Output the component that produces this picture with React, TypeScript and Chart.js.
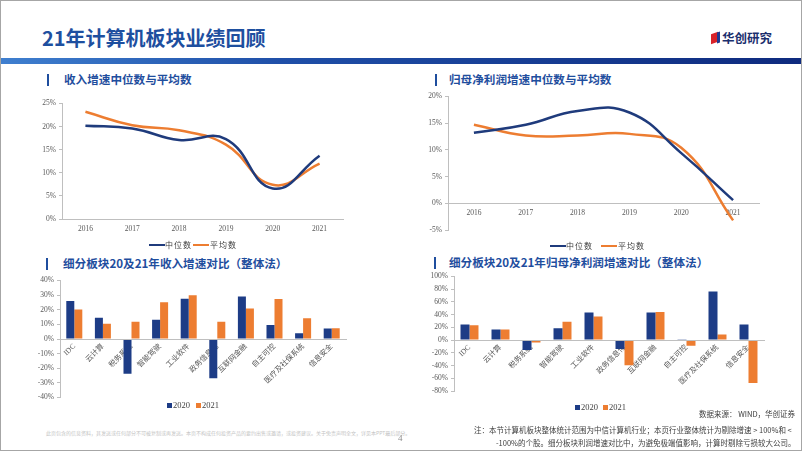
import React, { useEffect, useRef } from 'react';
import { Chart, registerables } from 'chart.js';

Chart.register(...registerables);

// ---------- data ----------
const years = ['2016', '2017', '2018', '2019', '2020', '2021'];
const revenueMedian = [20.2, 19.6, 17.1, 17.3, 6.6, 13.7];
const revenueMean = [23.2, 20.3, 19.2, 16.1, 7.4, 12.0];
const profitMedian = [13.2, 14.7, 17.3, 17.0, 9.4, 0.6];
const profitMean = [14.7, 12.7, 12.7, 13.0, 10.4, -3.2];

const sectors = ['IDC', '云计算', '税务系统', '智能驾驶', '工业软件', '政务信息化', '互联网金融', '自主可控', '医疗及社保系统', '信息安全'];
const revenue2020 = [26.0, 14.6, -23.8, 13.1, 27.6, -26.9, 29.1, 9.6, 3.9, 7.2];
const revenue2021 = [20.1, 10.5, 11.8, 25.2, 30.0, 11.8, 20.8, 27.4, 14.2, 7.4];
const profit2020 = [24.7, 16.5, -15.5, 18.6, 43.3, -13.9, 43.3, 0.5, 76.3, 24.7];
const profit2021 = [23.2, 16.5, -3.6, 28.9, 37.1, -39.7, 44.3, -8.8, 8.8, -67.5];

// axis ranges: [min, max, step]
const revenueLineAxis = [0, 25, 5];
const profitLineAxis = [-5, 20, 5];
const revenueBarAxis = [-40, 40, 10];
const profitBarAxis = [-80, 100, 20];

const seriesNames = ['中位数', '平均数'];
const barYears = ['2020', '2021'];

// ---------- styles ----------
const NAVY = '#1f3b7c';
const BAR_NAVY = '#1d3c86';
const ORANGE = '#ED7D31';
const AXIS = '#bfbfbf';
const TICK = '#595959';
const BLUE_TXT = '#1f4e9e';
const SERIF = "'Liberation Serif', 'Noto Sans CJK SC', serif";
const SANS = "'Noto Sans CJK SC', 'Noto Sans', sans-serif";
const tickFont = { family: SERIF, size: 7.5 };

function yAxis(range: number[], width: number) {
  return {
    min: range[0],
    max: range[1],
    ticks: {
      stepSize: range[2],
      callback: (v: any) => `${v}%`,
      font: tickFont,
      color: TICK,
      padding: 3,
    },
    grid: { display: true, drawOnChartArea: false, drawTicks: true, tickLength: 3, color: AXIS },
    border: { display: true, color: AXIS },
    afterFit: (s: any) => {
      s.width = width;
    },
  };
}

function lineConfig(a: number[], b: number[], range: number[], yWidth: number, padding: any, atZero: boolean) {
  const x: any = {
    offset: true,
    grid: { display: false, drawTicks: false },
    border: { display: true, color: AXIS },
    ticks: { font: tickFont, color: TICK, padding: atZero ? 5 : 6, maxRotation: 0, minRotation: 0 },
  };
  if (atZero) {
    x.position = { y: 0 };
  } else {
    x.afterFit = (s: any) => {
      s.height = 22;
    };
  }
  return {
    type: 'line',
    data: {
      labels: years,
      datasets: [
        { label: seriesNames[0], data: a, borderColor: NAVY, borderWidth: 2.5, pointRadius: 0, tension: 0.45, fill: false },
        { label: seriesNames[1], data: b, borderColor: ORANGE, borderWidth: 2.5, pointRadius: 0, tension: 0.45, fill: false },
      ],
    },
    options: {
      responsive: false,
      animation: false,
      layout: { padding },
      plugins: { legend: { display: false }, tooltip: { enabled: false } },
      scales: { x, y: yAxis(range, yWidth) },
    },
  };
}

function barConfig(a: number[], b: number[], range: number[], yWidth: number, padding: any, catPct: number) {
  return {
    type: 'bar',
    data: {
      labels: sectors,
      datasets: [
        { label: barYears[0], data: a, backgroundColor: BAR_NAVY, barPercentage: 1, categoryPercentage: catPct },
        { label: barYears[1], data: b, backgroundColor: ORANGE, barPercentage: 1, categoryPercentage: catPct },
      ],
    },
    options: {
      responsive: false,
      animation: false,
      layout: { padding },
      plugins: { legend: { display: false }, tooltip: { enabled: false } },
      scales: {
        x: {
          position: { y: 0 },
          offset: true,
          grid: { display: false, drawTicks: false },
          border: { display: true, color: AXIS, z: 1 },
          ticks: { font: tickFont, color: TICK, padding: 3, minRotation: 45, maxRotation: 45, autoSkip: false },
        },
        y: yAxis(range, yWidth),
      },
    },
  };
}

function ChartBox({ left, top, width, height, config }: any) {
  const ref = useRef<HTMLCanvasElement>(null);
  useEffect(() => {
    const chart = new Chart(ref.current as HTMLCanvasElement, config());
    return () => chart.destroy();
  }, []);
  return (
    <div style={{ position: 'absolute', left, top, width, height }}>
      <canvas ref={ref} width={width} height={height} style={{ display: 'block' }} />
    </div>
  );
}

function Txt({ left, top, size, color, bold, family, children, spacing, right }: any) {
  const st: any = {
    position: 'absolute',
    top: top - size / 2,
    fontSize: size,
    lineHeight: `${size}px`,
    color,
    fontWeight: bold ? 700 : 400,
    fontFamily: family || SANS,
    whiteSpace: 'nowrap',
    letterSpacing: spacing || 0,
  };
  if (right !== undefined) st.right = right;
  else st.left = left;
  return <div style={st}>{children}</div>;
}

function Header({ barLeft, textLeft, y, text }: any) {
  return (
    <>
      <div style={{ position: 'absolute', left: barLeft, top: y - 6, width: 2, height: 12, background: BLUE_TXT }} />
      <Txt left={textLeft} top={y} size={11.6} color={BLUE_TXT} bold>{text}</Txt>
    </>
  );
}

function LineLegend({ x1, x2, y }: any) {
  return (
    <>
      <div style={{ position: 'absolute', left: x1, top: y - 1.25, width: 16, height: 2.5, background: NAVY }} />
      <Txt left={x1 + 16} top={y} size={8} color="#404040" spacing={1}>{seriesNames[0]}</Txt>
      <div style={{ position: 'absolute', left: x2, top: y - 1.25, width: 16, height: 2.5, background: ORANGE }} />
      <Txt left={x2 + 17} top={y} size={8} color="#404040" spacing={1}>{seriesNames[1]}</Txt>
    </>
  );
}

function BarLegend({ x1, x2, y }: any) {
  return (
    <>
      <div style={{ position: 'absolute', left: x1, top: y - 2.5, width: 5, height: 5, background: BAR_NAVY }} />
      <Txt left={x1 + 6} top={y} size={8.5} color="#404040" family={SERIF}>{barYears[0]}</Txt>
      <div style={{ position: 'absolute', left: x2, top: y - 2.5, width: 5, height: 5, background: ORANGE }} />
      <Txt left={x2 + 6} top={y} size={8.5} color="#404040" family={SERIF}>{barYears[1]}</Txt>
    </>
  );
}

export default function App() {
  return (
    <div
      style={{
        position: 'absolute',
        left: 0,
        top: 0,
        width: 802,
        height: 451,
        boxSizing: 'border-box',
        border: '1px solid #a6a6a6',
        background: '#fff',
        overflow: 'hidden',
      }}
    >
      {/* title */}
      <Txt left={41} top={37} size={20} color="#1e4f9f" bold>21年计算机板块业绩回顾</Txt>
      {/* logo */}
      <div style={{ position: 'absolute', left: 710, top: 32, width: 7, height: 10, background: '#d8232a', transform: 'skewY(-20deg)' }} />
      <div style={{ position: 'absolute', left: 716, top: 31, width: 3, height: 11, background: '#1f3a93', transform: 'skewY(-20deg)' }} />
      <Txt left={721} top={37} size={12.5} color="#1b2f6e" bold>华创研究</Txt>
      {/* gradient band */}
      <div
        style={{
          position: 'absolute',
          left: 0,
          top: 57,
          width: 802,
          height: 6,
          background: 'linear-gradient(90deg, #3f7fcf 0%, #1f4fa8 35%, #0e2a7e 100%)',
        }}
      />

      {/* section headers */}
      <Header barLeft={46} textLeft={63} y={79} text="收入增速中位数与平均数" />
      <Header barLeft={434} textLeft={448} y={79} text="归母净利润增速中位数与平均数" />
      <Header barLeft={45} textLeft={62} y={263} text="细分板块20及21年收入增速对比（整体法）" />
      <Header barLeft={433} textLeft={448} y={262} text="细分板块20及21年归母净利润增速对比（整体法）" />

      {/* charts */}
      <ChartBox
        left={20}
        top={95}
        width={330}
        height={145}
        config={() => lineConfig(revenueMedian, revenueMean, revenueLineAxis, 41, { top: 5, right: 8, left: 0, bottom: 0 }, false)}
      />
      <LineLegend x1={148} x2={192} y={244} />

      <ChartBox
        left={400}
        top={88}
        width={370}
        height={150}
        config={() => lineConfig(profitMedian, profitMean, profitLineAxis, 47, { top: 6, right: 12, left: 0, bottom: 9 }, true)}
      />
      <LineLegend x1={549} x2={600} y={245} />

      <ChartBox
        left={15}
        top={272}
        width={340}
        height={132}
        config={() => barConfig(revenue2020, revenue2021, revenueBarAxis, 44, { top: 6, right: 10, left: 0, bottom: 6 }, 0.56)}
      />
      <BarLegend x1={166} x2={195} y={404} />

      <ChartBox
        left={405}
        top={268}
        width={370}
        height={130}
        config={() => barConfig(profit2020, profit2021, profitBarAxis, 48, { top: 6, right: 12, left: 0, bottom: 8 }, 0.58)}
      />
      <BarLegend x1={574} x2={602} y={406} />

      {/* source & notes */}
      <Txt left={698} top={413} size={7.5} color="#404040">数据来源：  WIND，华创证券</Txt>
      <Txt left={473} top={429} size={7.5} color="#404040">注：本节计算机板块整体统计范围为中信计算机行业；本页行业整体统计为剔除增速 &gt; 100%和 &lt;</Txt>
      <Txt left={495} top={442} size={7.5} color="#404040">-100%的个股。细分板块利润增速对比中，为避免极端值影响，计算时剔除亏损较大公司。</Txt>

      {/* footer */}
      <Txt left={45} top={431} size={5} color="#c4c4c4">此页包含的信息资料，其发送或任何部分不可被复制或再发送。本页不构成任何投资产品的要约出售或邀请，或投资建议。关于免责声明全文，详见本PPT最后部分。</Txt>
      <Txt left={397} top={437} size={9} color="#8c8c8c" family={SERIF}>4</Txt>
    </div>
  );
}
